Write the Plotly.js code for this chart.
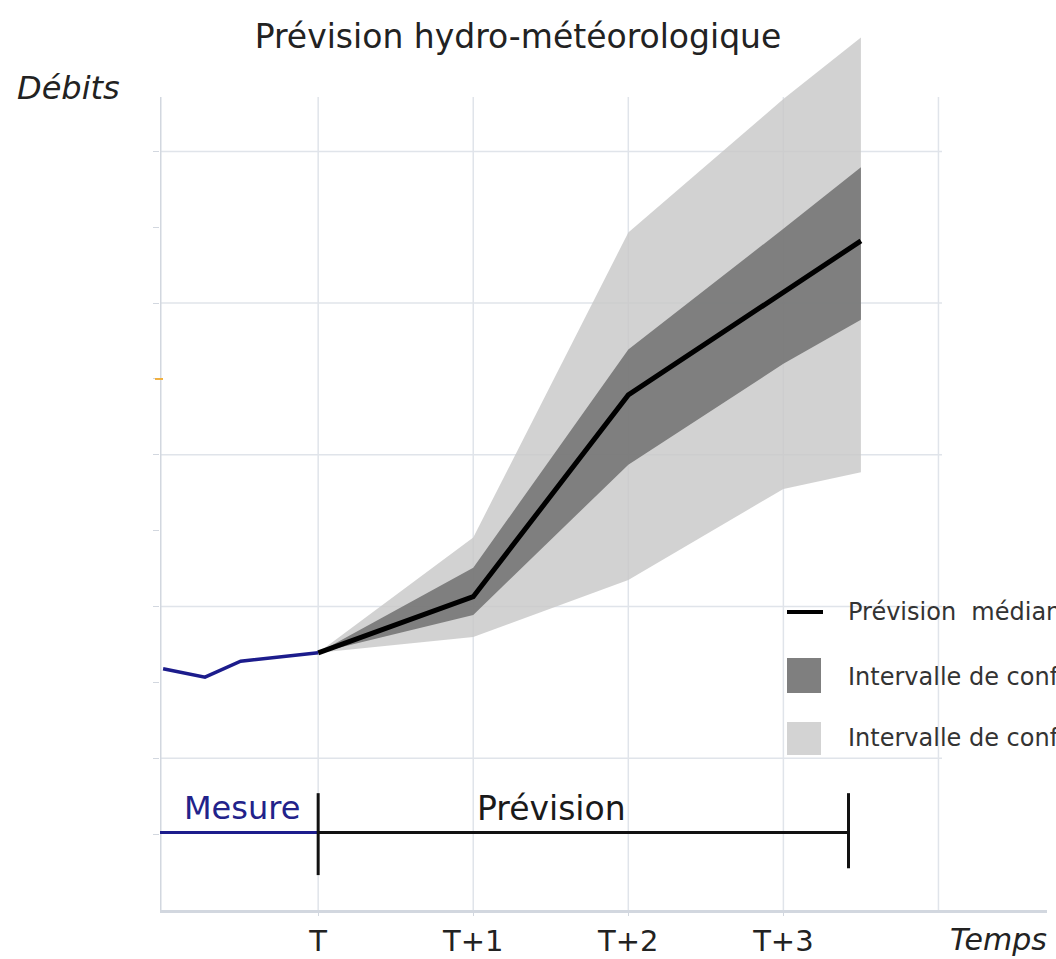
<!DOCTYPE html>
<html>
<head>
<meta charset="utf-8">
<script src="https://cdn.plot.ly/plotly-3.0.1.min.js"></script>
<style>html,body{margin:0;padding:0;background:#fff;}#chart{width:1056px;height:959px;}</style>
</head>
<body>
<div id="chart"></div>
<script>
// ---- Data (time steps: 0 = T, 1 = T+1, ...; flow in arbitrary units) ----
const tickValues = [0, 1, 2, 3];
const tickLabels = ["T", "T+1", "T+2", "T+3"];

const mesureX = [-1, -0.73, -0.5, 0];
const mesureY = [3.18, 3.07, 3.28, 3.39];

const forecastX = [0, 1, 2, 3, 3.5];
const medianY   = [3.39, 4.13, 6.79, 8.15, 8.82];
const dark50Up  = [3.39, 4.51, 7.39, 8.98, 9.79];
const dark50Low = [3.39, 3.89, 5.87, 7.20, 7.78];
const light90Up = [3.39, 4.91, 8.93, 10.69, 11.50];
const light90Low= [3.39, 3.60, 4.35, 5.55, 5.77];

// timeline ("Mesure | Prévision |")
const mesureSpanX   = [-1.02, 0];
const forecastSpanX = [0, 3.42];
const spanY         = [1.02, 1.02];
const tickTX = [0, 0],       tickTY = [0.46, 1.54];
const tickEndX = [3.42, 3.42], tickEndY = [0.55, 1.54];

const legendLabels = ["Prévision  médiane", "Intervalle de confiance à 50 %", "Intervalle de confiance à 90 %"];

// ---- helpers (pixel -> axis / paper units, for layout placement only) ----
const XMIN = -1.02, XMAX = 4.7, YMIN = 0, YMAX = 11.6;
const ML = 160, MR = 9, MT = 30, MB = 49, W = 1056, H = 959;
const PW = W - ML - MR, PH = H - MT - MB;
const sx = PW / (XMAX - XMIN);
const sy = PH / (YMAX - YMIN);
const X = px => XMIN + (px - ML) / sx;
const Y = py => YMIN + (H - MB - py) / sy;
const PX = px => (px - ML) / PW;
const PY = py => (H - MB - py) / PH;

const FONT = "DejaVu Sans, Verdana, sans-serif";
const gridCol = "#e0e4ea";
const axisCol = "#d2d7df";

function poly(xs, up, low) {
  return { x: xs.concat(xs.slice().reverse()), y: up.concat(low.slice().reverse()) };
}
const lightPoly = poly(forecastX, light90Up, light90Low);
const darkPoly = poly(forecastX, dark50Up, dark50Low);

const traces = [
  { x: lightPoly.x, y: lightPoly.y, mode: "lines", fill: "toself",
    fillcolor: "rgba(200,200,200,0.82)", line: { width: 0 }, hoverinfo: "skip" },
  { x: darkPoly.x, y: darkPoly.y, mode: "lines", fill: "toself",
    fillcolor: "rgba(118,118,118,0.9)", line: { width: 0 }, hoverinfo: "skip" },
  { x: forecastX, y: medianY, mode: "lines", line: { color: "#000", width: 5 } },
  { x: mesureX, y: mesureY, mode: "lines", line: { color: "#1c1c8c", width: 3.5 } },
  { x: mesureSpanX, y: spanY, mode: "lines", line: { color: "#1c1c8c", width: 3 } },
  { x: forecastSpanX, y: spanY, mode: "lines", line: { color: "#111", width: 3 } },
  { x: tickTX, y: tickTY, mode: "lines", line: { color: "#111", width: 3 } },
  { x: tickEndX, y: tickEndY, mode: "lines", line: { color: "#111", width: 3 } }
];

const shapes = [];
// vertical grid lines
[0, 1, 2, 3, 4].forEach(v => shapes.push({ type: "line", layer: "below", x0: v, x1: v, y0: 0, y1: Y(97),
  line: { color: gridCol, width: 1.5 } }));
// horizontal grid lines
[2, 4, 6, 8, 10].forEach(v => shapes.push({ type: "line", layer: "below", x0: XMIN, x1: X(942), y0: v, y1: v,
  line: { color: gridCol, width: 1.5 } }));
// left axis line
shapes.push({ type: "line", layer: "below", x0: XMIN, x1: XMIN, y0: 0, y1: Y(97), line: { color: axisCol, width: 3 } });
// small orange tick
shapes.push({ type: "line", xref: "paper", x0: PX(155), x1: PX(163), y0: 7, y1: 7, line: { color: "#f0b040", width: 2 } });
// legend glyphs
shapes.push({ type: "line", x0: X(787), x1: X(823), y0: Y(612), y1: Y(612), line: { color: "#000", width: 4 } });
shapes.push({ type: "rect", x0: X(787), x1: X(821), y0: Y(693), y1: Y(658), fillcolor: "#7f7f7f", line: { width: 0 } });
shapes.push({ type: "rect", x0: X(787), x1: X(821), y0: Y(755), y1: Y(722), fillcolor: "#d3d3d3", line: { width: 0 } });

function ann(text, px, py, size, color, anchor) {
  return { text: text, x: PX(px), y: PY(py), xref: "paper", yref: "paper", showarrow: false,
    font: { family: FONT, size: size, color: color }, xanchor: anchor || "center", yanchor: "middle" };
}
const annotations = [
  ann("<i>Débits</i>", 68, 88, 32, "#222"),
  ann("<i>Temps</i>", 998, 939, 30, "#222"),
  ann("Mesure", 242, 808, 32, "#22228a"),
  ann("Prévision", 551, 808, 33, "#1a1a1a")
];
[612, 677, 738].forEach((py, i) => annotations.push(ann(legendLabels[i], 846, py, 24, "#333", "left")));

const layout = {
  width: W, height: H,
  margin: { l: ML, r: MR, t: MT, b: MB },
  paper_bgcolor: "#fff", plot_bgcolor: "#fff",
  showlegend: false,
  title: { text: "Prévision hydro-météorologique", x: 518 / W, xanchor: "center",
    y: 1 - 36 / H, yanchor: "middle", font: { family: FONT, size: 33, color: "#222" } },
  xaxis: { range: [XMIN, XMAX], tickvals: tickValues, ticktext: tickLabels,
    showgrid: false, zeroline: false, showline: true, linecolor: axisCol, linewidth: 3,
    ticks: "outside", ticklen: 3, tickcolor: axisCol, tickwidth: 1,
    tickfont: { family: FONT, size: 29, color: "#222" }, fixedrange: true },
  yaxis: { range: [YMIN, YMAX], tickvals: [1,2,3,4,5,6,7,8,9,10], showticklabels: false,
    showgrid: false, zeroline: false, showline: false,
    ticks: "outside", ticklen: 6, tickcolor: axisCol, tickwidth: 1, fixedrange: true },
  shapes: shapes,
  annotations: annotations
};

Plotly.newPlot("chart", traces, layout, { displayModeBar: false, staticPlot: true });
</script>
</body>
</html>
